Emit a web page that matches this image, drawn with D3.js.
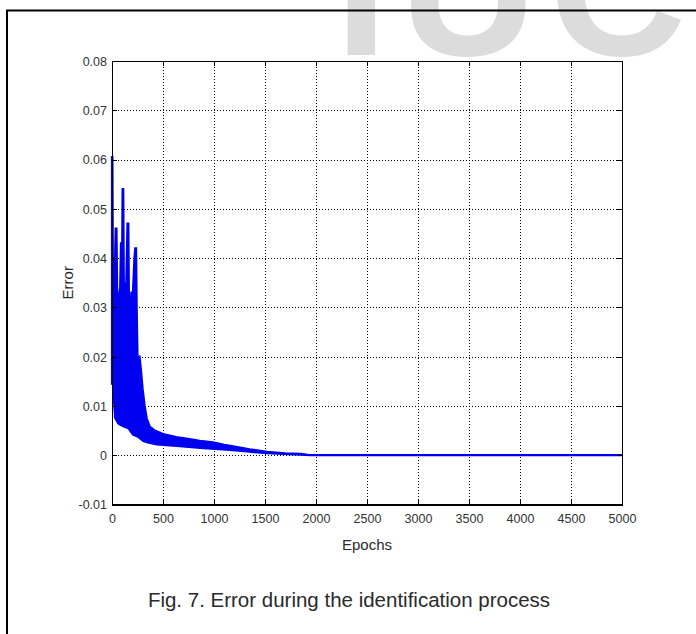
<!DOCTYPE html>
<html>
<head>
  <script src="https://d3js.org/d3.v7.min.js"></script>
  <style>
    body { margin: 0; background: #fff; }
    text { font-family: "Liberation Sans", Arial, sans-serif; fill: #2a2a2a; }
    .grid line { stroke: #000; stroke-width: 1; stroke-dasharray: 1,2; }
    .axis path, .axis line { stroke: #000; shape-rendering: crispEdges; }
    .axis text { font-size: 12.5px; fill: #333; }
  </style>
</head>
<body>
  <div id="chart"></div>

  <script>
    // upper edge of the error trace (peaks of the oscillation)
    var upperEpochs = [0, 4, 8, 30, 36, 44, 50, 70, 80, 88, 92, 98, 104, 110, 116, 128, 140, 152, 160, 166,
      178, 190, 205, 220, 228, 236, 242, 250, 270, 285, 300, 320, 340, 370, 420, 500, 630, 760, 860, 990,
      1100, 1160, 1350, 1520, 1700, 1850, 1920, 2000, 5000];
    var upperError = [0.0605, 0.0605, 0.040, 0.040, 0.046, 0.046, 0.034, 0.030, 0.034, 0.043, 0.043, 0.036, 0.054, 0.054, 0.035, 0.034, 0.035, 0.047, 0.047, 0.032,
      0.0287, 0.033, 0.033, 0.040, 0.042, 0.042, 0.030, 0.020, 0.020, 0.017, 0.0135, 0.010, 0.0075, 0.0058, 0.0050, 0.0043, 0.0037, 0.0033, 0.0029, 0.0026,
      0.0021, 0.0019, 0.0012, 0.0007, 0.0004, 0.0003, 0.0001, 0, 0];

    // lower edge of the error trace (troughs of the oscillation)
    var lowerEpochs = [0, 10, 20, 30, 60, 78, 120, 160, 206, 250, 307, 350, 438, 634, 863, 1157, 1350, 1520, 1843, 1950, 5000];
    var lowerError = [0.0145, 0.0145, 0.011, 0.0076, 0.0065, 0.0062, 0.0058, 0.0055, 0.0042, 0.0038, 0.0029, 0.0026, 0.0022, 0.0019, 0.0015, 0.0011, 0.0007, 0.0004, 0.0001, 0, 0];

    var xTicks = [0, 500, 1000, 1500, 2000, 2500, 3000, 3500, 4000, 4500, 5000];
    var xTickLabels = ["0", "500", "1000", "1500", "2000", "2500", "3000", "3500", "4000", "4500", "5000"];
    var yTicks = [-0.01, 0, 0.01, 0.02, 0.03, 0.04, 0.05, 0.06, 0.07, 0.08];
    var yTickLabels = ["-0.01", "0", "0.01", "0.02", "0.03", "0.04", "0.05", "0.06", "0.07", "0.08"];

    var W = 696, H = 634;
    var plotLeft = 112, plotRight = 622, plotTop = 61, plotBottom = 504.5;

    var svg = d3.select("#chart").append("svg")
      .attr("width", W)
      .attr("height", H);

    // watermark
    svg.append("text")
      .attr("x", 335)
      .attr("y", 55)
      .attr("font-size", 190)
      .attr("font-weight", "bold")
      .attr("letter-spacing", 12)
      .style("fill", "#dcdcdc")
      .text("IUC");

    // page frame (top and left rules)
    svg.append("line").attr("x1", 6).attr("x2", W).attr("y1", 10.5).attr("y2", 10.5)
      .attr("stroke", "#000").attr("stroke-width", 2);
    svg.append("line").attr("x1", 7).attr("x2", 7).attr("y1", 10).attr("y2", H)
      .attr("stroke", "#000").attr("stroke-width", 2);

    var x = d3.scaleLinear().domain([0, 5000]).range([plotLeft, plotRight]);
    var y = d3.scaleLinear().domain([-0.01, 0.08]).range([plotBottom, plotTop]);

    // dotted grid
    var grid = svg.append("g").attr("class", "grid");
    grid.selectAll(".gx")
      .data(xTicks.slice(1, -1))
      .enter().append("line")
      .attr("x1", function(d) { return Math.round(x(d)) + 0.5; })
      .attr("x2", function(d) { return Math.round(x(d)) + 0.5; })
      .attr("y1", plotTop)
      .attr("y2", plotBottom);
    grid.selectAll(".gy")
      .data(yTicks.slice(1, -1))
      .enter().append("line")
      .attr("x1", plotLeft)
      .attr("x2", plotRight)
      .attr("y1", function(d) { return Math.round(y(d)) + 0.5; })
      .attr("y2", function(d) { return Math.round(y(d)) + 0.5; });

    // error band: upper edge forward, lower edge back
    var pts = upperEpochs.map(function(e, i) { return [e, upperError[i]]; });
    var low = lowerEpochs.map(function(e, i) { return [e, lowerError[i]]; }).reverse();
    var line = d3.line()
      .x(function(d) { return x(d[0]); })
      .y(function(d) { return y(d[1]); })
      .curve(d3.curveLinearClosed);

    svg.append("path")
      .datum(pts.concat(low))
      .attr("d", line)
      .attr("fill", "#0000f0")
      .attr("stroke", "#0000f0")
      .attr("stroke-width", 2.2)
      .attr("stroke-linejoin", "miter");

    // axes with inward ticks on all four sides
    var xAxis = d3.axisBottom(x).tickValues(xTicks).tickSizeInner(-5).tickSizeOuter(0)
      .tickFormat(function(d, i) { return xTickLabels[i]; });
    var gx = svg.append("g").attr("class", "axis")
      .attr("transform", "translate(0," + plotBottom + ")")
      .call(xAxis);
    gx.selectAll("text").attr("y", 18).attr("dy", 0);

    var yAxis = d3.axisLeft(y).tickValues(yTicks).tickSizeInner(-5).tickSizeOuter(0)
      .tickFormat(function(d, i) { return yTickLabels[i]; });
    var gy = svg.append("g").attr("class", "axis")
      .attr("transform", "translate(" + plotLeft + ",0)")
      .call(yAxis);
    gy.selectAll("text").attr("x", -5).attr("dy", "0.35em");

    svg.append("g").attr("class", "axis")
      .attr("transform", "translate(0," + plotTop + ")")
      .call(d3.axisTop(x).tickValues(xTicks).tickSizeInner(-5).tickSizeOuter(0).tickFormat(""));
    svg.append("g").attr("class", "axis")
      .attr("transform", "translate(" + plotRight + ",0)")
      .call(d3.axisRight(y).tickValues(yTicks).tickSizeInner(-5).tickSizeOuter(0).tickFormat(""));

    // axis box
    svg.append("rect")
      .attr("x", plotLeft).attr("y", plotTop)
      .attr("width", plotRight - plotLeft).attr("height", plotBottom - plotTop)
      .attr("fill", "none").attr("stroke", "#000").attr("stroke-width", 1)
      .attr("shape-rendering", "crispEdges");

    svg.append("text")
      .attr("x", (plotLeft + plotRight) / 2)
      .attr("y", 550)
      .attr("text-anchor", "middle")
      .attr("font-size", 15)
      .text("Epochs");

    svg.append("text")
      .attr("transform", "translate(73," + (plotTop + plotBottom) / 2 + ") rotate(-90)")
      .attr("text-anchor", "middle")
      .attr("font-size", 15)
      .text("Error");

    svg.append("text")
      .attr("x", 349)
      .attr("y", 607)
      .attr("text-anchor", "middle")
      .attr("font-size", 20.5)
      .text("Fig. 7. Error during the identification process");
  </script>
</body>
</html>
